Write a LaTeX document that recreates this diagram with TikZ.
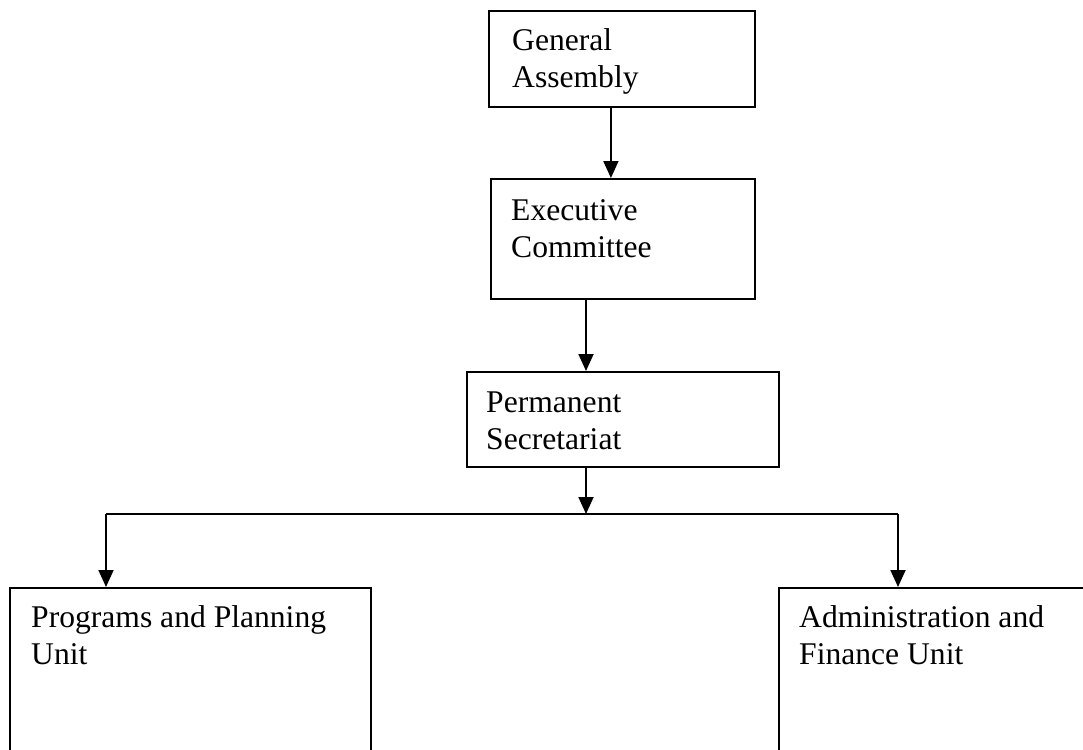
\documentclass[tikz,border=0pt]{standalone}
\usepackage{fontspec}
\setmainfont{Liberation Serif}
\usetikzlibrary{arrows.meta}
\begin{document}
\begin{tikzpicture}[x=1pt,y=-1pt,
  box/.style={draw=black, line width=1.8pt, fill=none, inner sep=0pt, anchor=north west},
  lbl/.style={anchor=north west, inner sep=0pt, align=left, font=\fontsize{31.6}{37}\selectfont},
  conn/.style={line width=1.8pt, draw=black},
  arr/.style={conn, -{Triangle[width=15pt,length=17pt]}}]
\useasboundingbox (0,0) rectangle (1083,749);
\clip (0,0) rectangle (1083,749);
% boxes
\node[box, minimum width=266pt, minimum height=96pt] (ga) at (488,10) {};
\node[box, minimum width=264pt, minimum height=120pt] (ec) at (490,178) {};
\node[box, minimum width=312pt, minimum height=95pt] (ps) at (466,371) {};
\node[box, minimum width=361pt, minimum height=220pt] (ppu) at (9,587) {};
\node[box, minimum width=340pt, minimum height=220pt] (afu) at (778,587) {};
% texts
\node[lbl] (tga) at (512,24.5) {\strut General\\Assembly};
\node[lbl] (tec) at (511,194) {\strut Executive\\Committee};
\node[lbl] (tps) at (486,386) {\strut Permanent\\Secretariat};
\node[lbl] (tppu) at (31,601) {\strut Programs and Planning\\Unit};
\node[lbl] (tafu) at (799,601) {\strut Administration and\\Finance Unit};
% connectors
\coordinate (j) at (586,514);
\coordinate (l) at (106,514);
\coordinate (r) at (898,514);
\draw[arr] ([xshift=-11pt]ga.south) -- ([xshift=-11pt]ga.south |- ec.north);
\draw[arr] (j |- ec.south) -- (j |- ps.north);
\draw[arr] (j |- ps.south) -- (j);
\draw[conn] (l) -- (r);
\draw[arr] (l) -- (l |- ppu.north);
\draw[arr] (r) -- (r |- afu.north);
\end{tikzpicture}
\end{document}
